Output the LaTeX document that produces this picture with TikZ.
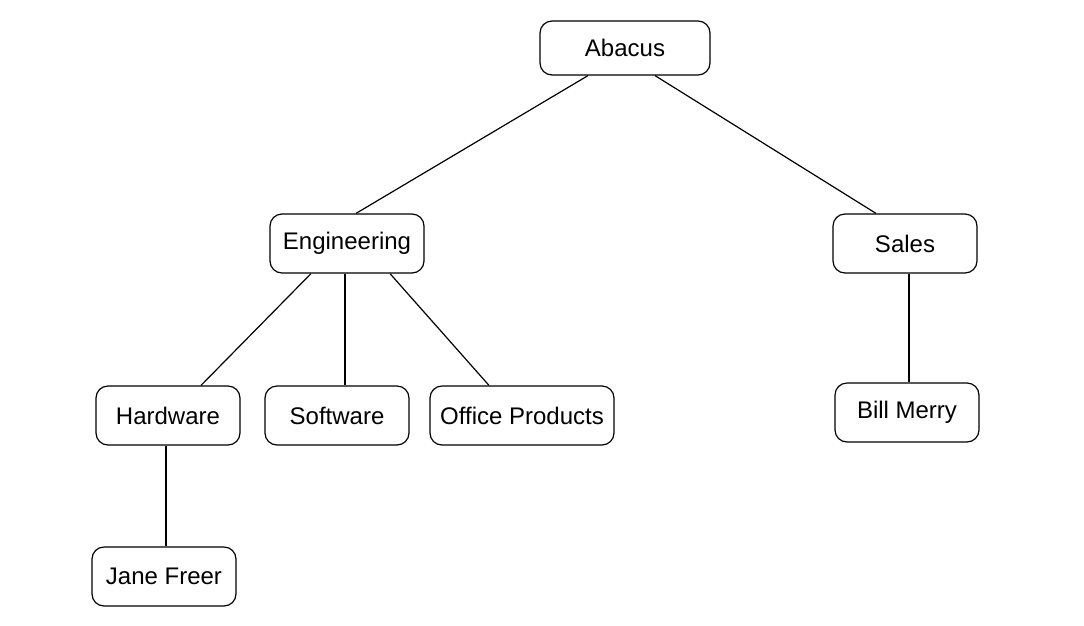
\documentclass[tikz,border=0pt]{standalone}
\usepackage{fontspec}
\setmainfont{Liberation Sans}
\usetikzlibrary{calc}
\begin{document}
\begin{tikzpicture}[x=1pt,y=-1pt,
  box/.style={draw,line width=1.2pt,rounded corners=12pt,inner sep=0pt,
    font=\fontsize{24}{28}\selectfont,minimum height=59pt},
  link/.style={line width=1.2pt}]
\useasboundingbox (0,0) rectangle (1084,625);
\node[box,minimum width=170pt,minimum height=54pt] (abacus) at (625,48) {Abacus};
\node[box,minimum width=154pt] (eng) at (347,243.5) {Engineering};
\node[box,minimum width=144pt] (sales) at (905,243.5) {Sales};
\node[box,minimum width=144pt] (hw) at (168,415.5) {Hardware};
\node[box,minimum width=144pt] (sw) at (337,415.5) {Software};
\node[box,minimum width=184pt] (op) at (522,415.5) {Office Products};
\node[box,minimum width=144pt] (bill) at (907,412.5) {Bill Merry};
\node[box,minimum width=144pt] (jane) at (164,576.5) {Jane Freer};
\draw[link] ($(abacus.south)+(-37,0)$) -- ($(eng.north)+(9,0)$);
\draw[link] ($(abacus.south)+(30,0)$) -- ($(sales.north)+(-29,0)$);
\draw[link] ($(eng.south)+(-36,0)$) -- ($(hw.north)+(33,0)$);
\draw[link] ($(eng.south)+(-2,0)$) -- ($(sw.north)+(8,0)$);
\draw[link] ($(eng.south)+(43,0)$) -- ($(op.north)+(-33,0)$);
\draw[link] ($(sales.south)+(4,0)$) -- ($(bill.north)+(2,0)$);
\draw[link] ($(hw.south)+(-2,0)$) -- ($(jane.north)+(2,0)$);
\end{tikzpicture}
\end{document}
